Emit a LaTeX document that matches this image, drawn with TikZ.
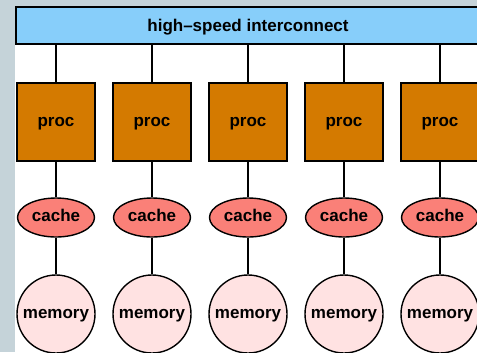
\documentclass[tikz,border=0pt]{standalone}
\usepackage{fontspec}
\setmainfont{Liberation Sans}
\usetikzlibrary{shapes.geometric}
\definecolor{bggray}{RGB}{197,211,217}
\definecolor{busblue}{RGB}{135,206,250}
\definecolor{procorange}{RGB}{212,122,0}
\definecolor{cachered}{RGB}{250,128,120}
\definecolor{mempink}{RGB}{255,226,226}
\begin{document}
\begin{tikzpicture}[x=1bp,y=-1bp,line width=1.4bp]
            \tikzset{
                every node/.style={font=\bfseries\fontsize{17bp}{20bp}\selectfont,draw=black,text depth=0pt},
                busbox/.style={fill=busblue,minimum width=464bp,minimum height=37bp,inner sep=0pt},
                procbox/.style={fill=procorange,minimum width=78bp,minimum height=78bp,inner sep=0pt,text height=8.8bp},
                cachenode/.style={ellipse,fill=cachered,minimum width=77bp,minimum height=39bp,inner sep=0pt,text height=8.8bp},
                memnode/.style={circle,fill=mempink,minimum size=78bp,inner sep=0pt,text height=8.8bp},}
            \useasboundingbox (0,0) rectangle (477,352);
            \fill[bggray] (0,0) rectangle (477,352);
            \fill[white] (15,6) rectangle (477,352);
            \node[busbox] (bus) at (248,25.5) {high--speed interconnect};
            % one column per processor
            \foreach \i/\x in {1/56,2/152,3/248,4/344,5/440}{
                \node[procbox] (proc\i) at (\x,122) {proc};
                \node[cachenode] (cache\i) at (\x,217.5) {cache};
                \node[memnode] (mem\i) at (\x,314) {memory};
                \draw (bus.south -| proc\i.north) -- (proc\i.north);
                \draw (proc\i) -- (cache\i);
                \draw (cache\i) -- (mem\i);
            }
        \end{tikzpicture}
\end{document}
